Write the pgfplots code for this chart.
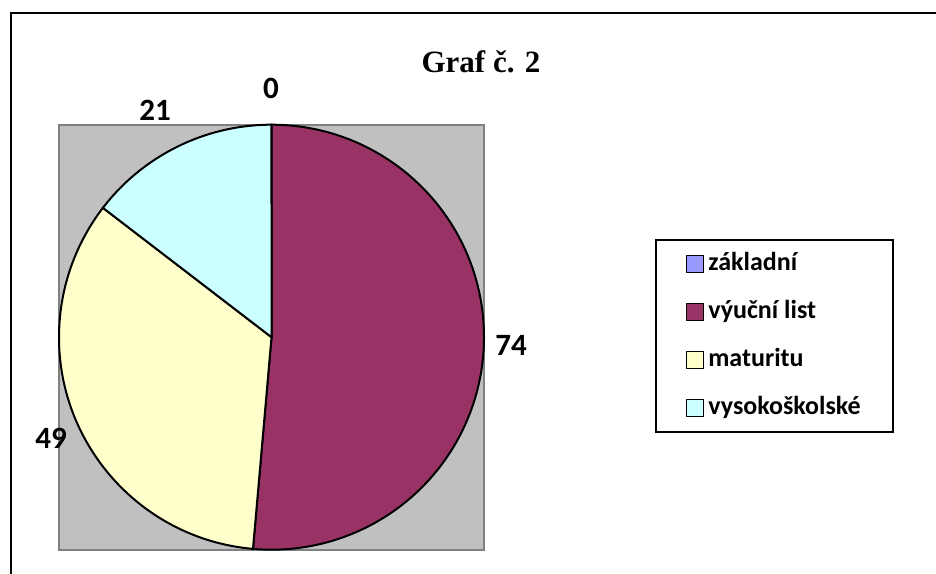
\documentclass[border=0pt]{standalone}
\usepackage{fontspec}
\usepackage{pgfplots}
\pgfplotsset{compat=1.18}
\newfontfamily\calibri{Carlito}
\newfontfamily\titlefont{Liberation Serif}

\definecolor{zakladni}{HTML}{9999FF}
\definecolor{vyucni}{HTML}{993366}
\definecolor{maturita}{HTML}{FFFFCC}
\definecolor{vysoka}{HTML}{CCFFFF}
\definecolor{plotbg}{HTML}{C0C0C0}
\definecolor{plotedge}{HTML}{808080}

% values: zakladni 0, vyucni list 74, maturitu 49, vysokoskolske 21 (sum 144)
% angles clockwise from 90: 90 -> -95 -> -217.5 -> -270

\begin{document}
\begin{tikzpicture}
\useasboundingbox (0,0) rectangle (936pt,573pt);
\begin{scope}
  \clip (0,0) rectangle (936pt,573pt);
  \draw[line width=2.4pt] (11pt,-5pt) -- (11pt,560pt) -- (945pt,560pt);
\end{scope}

\begin{axis}[
    at={(59pt,23.3pt)}, anchor=south west,
    scale only axis, width=425pt, height=425pt,
    xmin=-1, xmax=1, ymin=-1, ymax=1,
    xtick=\empty, ytick=\empty,
    clip=false,
    axis background/.style={fill=plotbg},
    axis line style={plotedge, line width=2.2pt},
    legend cell align=left,
    legend style={at={(rel axis cs:1.402,0.731)}, anchor=north west,
        draw=black, line width=2pt, fill=white,
        font=\calibri\bfseries\fontsize{26pt}{30pt}\selectfont,
        inner xsep=30pt, inner ysep=10pt, row sep=20pt, column sep=2pt,
        nodes={inner sep=2pt, text height=18pt, text depth=6pt}},
    legend image code/.code={\draw[#1, line width=1.5pt] (0pt,-8.5pt) rectangle (17pt,8.5pt);},
]
\addlegendimage{fill=zakladni, draw=black}
\addlegendentry{základní}
\addlegendimage{fill=vyucni, draw=black}
\addlegendentry{výuční list}
\addlegendimage{fill=maturita, draw=black}
\addlegendentry{maturitu}
\addlegendimage{fill=vysoka, draw=black}
\addlegendentry{vysokoškolské}

% výuční list: 74 -> 185 deg
\addplot[fill=vyucni, draw=black, line width=2pt, forget plot]
  coordinates {(0,0) (0,1)} arc[start angle=90, end angle=-95, radius=212.5pt] -- cycle;
% maturitu: 49 -> 122.5 deg
\addplot[fill=maturita, draw=black, line width=2pt, forget plot]
  coordinates {(0,0) (-0.08716,-0.99619)} arc[start angle=-95, end angle=-217.5, radius=212.5pt] -- cycle;
% vysokoškolské: 21 -> 52.5 deg
\addplot[fill=vysoka, draw=black, line width=2pt, forget plot]
  coordinates {(0,0) (-0.79335,0.60876)} arc[start angle=-217.5, end angle=-270, radius=212.5pt] -- cycle;
\end{axis}

\node[font=\titlefont\bfseries\fontsize{31pt}{36pt}\selectfont, anchor=base] at (481pt,500pt) {Graf č. 2};

\begin{scope}[font=\calibri\bfseries\fontsize{31pt}{36pt}\selectfont]
  \node at (271pt,485pt) {0};
  \node at (155pt,463pt) {21};
  \node at (511pt,228pt) {74};
  \node at (51pt,135pt) {49};
\end{scope}
\end{tikzpicture}
\end{document}
